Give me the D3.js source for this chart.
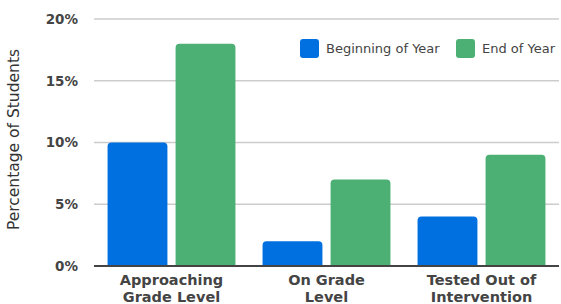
<!DOCTYPE html>
<html><head><meta charset="utf-8">
<script src="https://cdn.jsdelivr.net/npm/d3@7"></script>
<style>body{margin:0;background:#fff}svg{display:block}</style>
</head><body>
<svg id="chart" width="561" height="304"></svg>
<script>
const categories = [["Approaching","Grade Level"],["On Grade","Level"],["Tested Out of","Intervention"]];
const seriesNames = ["Beginning of Year","End of Year"];
const beginningOfYear = [10, 2, 4];
const endOfYear = [18, 7, 9];
const yTicks = [0, 5, 10, 15, 20];
const colors = ["#0070E0", "#4CAF74"];

const svg = d3.select("#chart");
const W = 561, H = 304;
const m = {left: 94, right: 2, top: 19, bottom: 38};
const font = "'DejaVu Sans', sans-serif";

const x0 = d3.scaleBand().domain(d3.range(categories.length)).range([m.left, W - m.right]).paddingInner(0.175).paddingOuter(0.0875);
const x1 = d3.scaleBand().domain(d3.range(seriesNames.length)).range([0, x0.bandwidth()]).paddingInner(0.12);
const y = d3.scaleLinear().domain([0, 20]).range([H - m.bottom, m.top]);

// gridlines
svg.append("g").selectAll("line").data(yTicks.filter(d => d > 0)).join("line")
  .attr("x1", m.left).attr("x2", W - m.right)
  .attr("y1", d => y(d)).attr("y2", d => y(d))
  .attr("stroke", "#cccccc").attr("stroke-width", 1.5);

// y tick labels
svg.append("g").selectAll("text").data(yTicks).join("text")
  .attr("x", 78).attr("y", d => y(d)).attr("dy", "0.36em")
  .attr("text-anchor", "end")
  .attr("font-family", font).attr("font-weight", 700).attr("font-size", 13.5)
  .attr("fill", "#444").text(d => d + "%");

// y title
svg.append("text")
  .attr("transform", `translate(19,${(y(0)+y(20))/2 - 3}) rotate(-90)`)
  .attr("text-anchor", "middle")
  .attr("font-family", font).attr("font-size", 15.5).attr("fill", "#333")
  .text("Percentage of Students");

const series = [beginningOfYear, endOfYear];
const r = 4;
function topRounded(x, yTop, w, yBase) {
  const h = yBase - yTop;
  const rr = Math.min(r, h, w/2);
  return `M${x},${yBase}V${yTop+rr}Q${x},${yTop} ${x+rr},${yTop}H${x+w-rr}Q${x+w},${yTop} ${x+w},${yTop+rr}V${yBase}Z`;
}
const g = svg.append("g");
series.forEach((vals, si) => {
  g.selectAll(null).data(vals).join("path")
    .attr("d", (v, i) => topRounded(x0(i) + x1(si), y(v), x1.bandwidth(), y(0)))
    .attr("fill", colors[si]);
});

// baseline
svg.append("line").attr("x1", m.left).attr("x2", W - m.right)
  .attr("y1", y(0)).attr("y2", y(0)).attr("stroke", "#444").attr("stroke-width", 2);

// x labels
const xl = svg.append("g").selectAll("text").data(categories).join("text")
  .attr("x", (d, i) => x0(i) + x0.bandwidth()/2)
  .attr("y", 284.5)
  .attr("text-anchor", "middle")
  .attr("font-family", font).attr("font-weight", 700).attr("font-size", 14.5)
  .attr("fill", "#444");
xl.selectAll("tspan").data(d => d).join("tspan")
  .attr("x", function() { return this.parentNode.getAttribute("x"); })
  .attr("dy", (d, i) => i === 0 ? 0 : 17)
  .text(d => d);

// legend
const legendX = [300, 456];
const lg = svg.append("g").selectAll("g").data(seriesNames).join("g")
  .attr("transform", (d, i) => `translate(${legendX[i]},39)`);
lg.append("rect").attr("width", 19).attr("height", 19).attr("rx", 3)
  .attr("fill", (d, i) => colors[i]);
lg.append("text").attr("x", 26).attr("y", 9.5).attr("dy", "0.36em")
  .attr("font-family", font).attr("font-size", 13).attr("fill", "#444")
  .text(d => d);
</script>
</body></html>
